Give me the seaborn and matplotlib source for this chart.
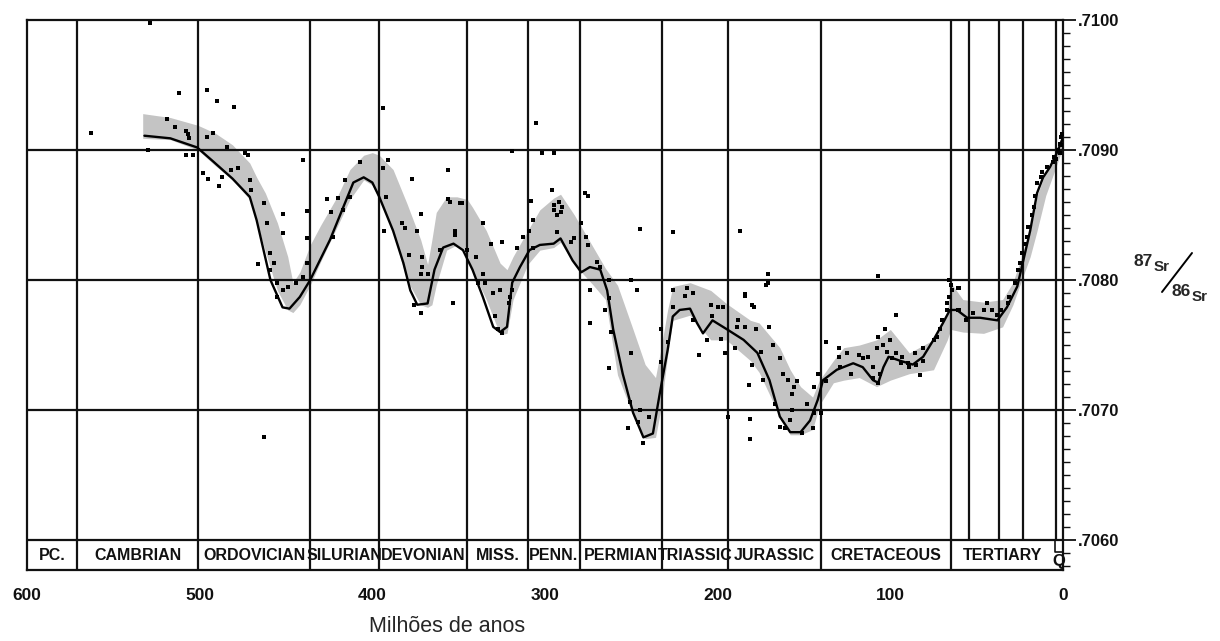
import numpy as np
import pandas as pd
import seaborn as sns
import matplotlib.pyplot as plt
from matplotlib.lines import Line2D

# smoothed curve of 87Sr/86Sr versus age (Ma)
curve_age = [532, 517, 501.5, 492, 481, 471, 467, 463, 459, 455, 452, 448, 442, 436, 424.5, 415, 411, 405, 400,
             396, 388, 382, 378, 374, 368, 364, 359, 353, 347.5, 342, 336, 330, 326, 322, 319, 314.5, 309, 303,
             295, 291, 284, 279, 274, 268, 264, 260.5, 255, 249, 243, 237.5, 233.5, 229, 226, 222, 216, 212,
             208.5, 203, 194.5, 185, 177, 170, 164, 158, 152, 146.5, 142, 139, 131, 121.5, 116, 110, 107, 104,
             101, 94.5, 87, 81, 75, 69.5, 65.5, 61.5, 55.5, 48, 38, 32.5, 26.5, 23, 19, 15, 11.5, 7.5, 3.5, 0.5]
curve_ratio = [.70911, .70909, .70902, .70891, .70878, .70864, .70846, .70823, .70800, .70788, .70779, .70778,
               .70787, .70800, .70831, .70862, .70875, .70879, .70875, .70864, .70838, .70813, .70792, .70781,
               .70782, .70808, .70825, .70828, .70823, .70808, .70787, .70764, .70760, .70764, .70798, .70810,
               .70823, .70827, .70828, .70832, .70815, .70806, .70810, .70808, .70792, .70762, .70728, .70698,
               .70679, .70682, .70713, .70746, .70772, .70777, .70778, .70767, .70759, .70769, .70762, .70754,
               .70744, .70723, .70695, .70683, .70683, .70692, .70708, .70723, .70731, .70736, .70733, .70723,
               .70721, .70733, .70741, .70738, .70735, .70741, .70754, .70767, .70777, .70777, .70771, .70771,
               .70769, .70779, .70795, .70815, .70838, .70867, .70879, .70887, .70898, .70908]

# shaded envelope
band_age = [533, 517, 501, 491, 481, 471, 467, 462, 455, 449, 446, 442, 436, 430, 420, 413, 405, 400, 396, 388,
            380, 372, 368, 365.5, 363, 357, 351, 345, 342, 334, 326, 322, 318.5, 310, 303, 295, 291, 283, 272,
            265, 258, 249, 242, 236, 233, 229, 226, 216, 204, 195, 181, 176, 164, 158, 152, 145, 141, 133, 127,
            118, 108, 100, 89, 75, 67, 65, 58, 46, 35, 29, 25, 19, 15, 10, 4.6, 0.6]
band_hi = [.70928, .70925, .70919, .70913, .70904, .70890, .70879, .70867, .70844, .70818, .70798, .70806, .70827,
           .70842, .70865, .70885, .70896, .70898, .70896, .70885, .70859, .70831, .70812, .70831, .70852, .70864,
           .70864, .70862, .70856, .70838, .70813, .70808, .70818, .70838, .70854, .70863, .70866, .70850, .70825,
           .70809, .70796, .70762, .70735, .70725, .70746, .70777, .70795, .70798, .70792, .70782, .70769, .70767,
           .70748, .70731, .70718, .70710, .70723, .70738, .70748, .70750, .70754, .70762, .70744, .70754, .70775,
           .70798, .70785, .70783, .70785, .70798, .70814, .70837, .70865, .70883, .70896, .70908]
band_lo = [.70909, .70908, .70900, .70888, .70877, .70862, .70845, .70822, .70792, .70777, .70775, .70781, .70796,
           .70814, .70842, .70862, .70877, .70873, .70862, .70837, .70800, .70781, .70779, .70781, .70796, .70823,
           .70827, .70819, .70808, .70785, .70758, .70759, .70785, .70812, .70823, .70825, .70829, .70812, .70796,
           .70785, .70727, .70696, .70678, .70679, .70700, .70742, .70769, .70773, .70754, .70754, .70738, .70729,
           .70695, .70681, .70681, .70685, .70704, .70721, .70723, .70725, .70718, .70723, .70728, .70731, .70754,
           .70762, .70760, .70759, .70764, .70781, .70796, .70818, .70838, .70865, .70885, .70900]

# individual measurements (age, ratio)
samples = [
    (529, .70998), (563, .70913), (512, .70944), (496, .70946), (490, .70938), (480, .70933), (394, .70932),
    (440, .70892), (452, .70851), (452, .70836), (438, .70853), (377, .70878), (356, .70885), (372, .70851),
    (393, .70838), (353, .70782), (336, .70844), (331, .70828), (463, .70679), (319, .70899), (305, .70921),
    (302, .70898), (295, .70898), (296, .70869), (308, .70861), (325, .70829), (356, .70862), (349, .70859),
    (277, .70867), (275, .70865), (245, .70839), (226, .70837), (187, .70838), (171, .70805), (172, .70796),
    (184, .70789), (180, .70781), (137, .70752), (194, .70695), (181, .70693), (181, .70678), (211, .70742),
    (247, .70792), (250, .70800), (243, .70675), (107, .70803), (97, .70773), (170, .70764), (60, .70794),
    (530, .70900),
    (519, .70924), (514, .70918), (508, .70915), (507, .70912), (506, .70909), (496, .70910), (492, .70913),
    (484, .70902), (474, .70898), (472, .70896), (508, .70896), (504, .70896), (498, .70882), (495, .70878),
    (489, .70872), (487, .70879), (482, .70885), (478, .70886), (471, .70877), (470, .70869), (463, .70859),
    (461, .70844), (459, .70821), (457, .70813), (466, .70812), (459, .70808), (455, .70798), (452, .70792),
    (455, .70787), (449, .70795), (444, .70798), (440, .70802), (438, .70813), (438, .70832), (426, .70862),
    (424, .70852), (420, .70863), (423, .70833), (417, .70854), (416, .70877),
    (407, .70891), (394, .70886), (391, .70892), (413, .70864), (392, .70864), (383, .70844), (381, .70840),
    (374, .70838), (379, .70819), (371, .70818), (371, .70810), (372, .70805), (368, .70805), (376, .70781),
    (372, .70775), (361, .70823), (352, .70838), (352, .70835), (348, .70859), (355, .70860), (345, .70823),
    (340, .70818), (336, .70805), (339, .70798), (335, .70798), (330, .70790), (326, .70792), (329, .70772),
    (327, .70762), (325, .70759), (320, .70787), (321, .70782), (319, .70792), (316, .70825), (313, .70833),
    (309, .70838), (307, .70846), (307, .70825), (295, .70854), (293, .70850),
    (295, .70858), (292, .70860), (290, .70856), (291, .70852), (293, .70837), (285, .70829), (283, .70832),
    (279, .70844), (276, .70833), (275, .70827), (270, .70814), (268, .70810), (263, .70800), (263, .70786),
    (274, .70792), (265, .70777), (274, .70767), (262, .70760), (250, .70744), (263, .70732), (251, .70706),
    (245, .70700), (246, .70691), (252, .70686), (240, .70695), (233, .70762), (233, .70737), (229, .70752),
    (226, .70792), (226, .70779), (218, .70794), (219, .70788), (214, .70790), (214, .70769), (206, .70754),
    (204, .70781), (203, .70772), (200, .70779), (197, .70779), (196, .70744), (198, .70755), (189, .70764),
    (188, .70769), (184, .70764), (184, .70788), (178, .70762), (180, .70735), (182, .70719), (179, .70779),
    (174, .70723), (171, .70798), (190, .70748),
    (175, .70745), (168, .70750), (164, .70740), (162, .70728), (159, .70723), (156, .70718), (154, .70722),
    (157, .70712), (167, .70705), (157, .70700), (164, .70687), (158, .70692), (161, .70686), (145, .70686),
    (148, .70705), (151, .70682), (144, .70718), (142, .70728), (144, .70698), (140, .70698), (137, .70722),
    (130, .70748), (130, .70741), (129, .70733), (125, .70744), (123, .70728), (118, .70742), (116, .70740),
    (113, .70741), (110, .70733), (110, .70725), (107, .70721), (106, .70728), (107, .70756), (103, .70762),
    (108, .70748), (104, .70750), (100, .70754), (102, .70745), (99, .70740), (97, .70744), (94, .70736),
    (93, .70741), (90, .70736), (89, .70733), (85, .70735), (86, .70744), (81, .70738), (81, .70748),
    (83, .70727), (75, .70754), (73, .70756), (71, .70762), (70, .70769), (67, .70777), (66, .70787),
    (65, .70796), (64, .70792), (61, .70777),
    (66, .70800), (67, .70782), (61, .70794), (60, .70777), (56, .70769), (52, .70775), (46, .70777),
    (44, .70782), (41, .70777), (38, .70773), (36, .70777), (32, .70782), (31, .70787), (28, .70798),
    (26, .70808), (25, .70813), (24, .70821), (22, .70828), (21, .70833), (20, .70841), (18, .70850),
    (17, .70856), (16, .70865), (15, .70875), (13, .70879), (12, .70883), (9, .70887), (6, .70891),
    (5, .70895), (3, .70900), (2, .70905), (1, .70910), (1, .70904), (0.5, .70912), (2, .70898), (4, .70893),
]

# geologic periods
period_bounds = [571, 501, 436, 396, 345, 310, 280, 232, 194, 140, 65, 4.5]
period_names = ["PC.", "CAMBRIAN", "ORDOVICIAN", "SILURIAN", "DEVONIAN", "MISS.", "PENN.", "PERMIAN",
                "TRIASSIC", "JURASSIC", "CRETACEOUS", "TERTIARY", "Q"]
epoch_bounds = [54.4, 37.1, 23.2]

x_ticks = [600, 500, 400, 300, 200, 100, 0]
y_ticks = [0.7060, 0.7070, 0.7080, 0.7090, 0.7100]

sns.set_style("white")
plt.rcParams['font.family'] = ['Liberation Sans', 'DejaVu Sans']

W, H = 1220, 641
fig = plt.figure(figsize=(W / 100, H / 100), dpi=100)
ax = fig.add_axes([27 / W, 1 - 570 / H, (1063 - 27) / W, (570 - 20) / H])
ymin, ymax = 0.70577, 0.7100
band_top = 0.7060

ax.fill_between(band_age, band_lo, band_hi, color='#c4c4c4', lw=0, zorder=1)

curve = pd.DataFrame({"age": curve_age, "ratio": curve_ratio})
sns.lineplot(data=curve, x="age", y="ratio", sort=False, estimator=None,
             color='black', lw=1.7, ax=ax, zorder=3)

pts = pd.DataFrame(samples, columns=["age", "ratio"])
sns.scatterplot(data=pts, x="age", y="ratio", marker='s', s=6, color='black',
                linewidth=0, ax=ax, zorder=4)

lc = '#111111'
for v in [0.7070, 0.7080, 0.7090, band_top]:
    ax.axhline(v, color=lc, lw=1.6, zorder=2)
for a in period_bounds[:-1]:
    ax.axvline(a, color=lc, lw=1.6, zorder=2)
ax.vlines(epoch_bounds + [4.1], band_top, ymax, color=lc, lw=1.6, zorder=2)
# small Q bracket inside the band
ax.plot([4.5, 4.5, 0], [band_top, 0.70591, 0.70591], color=lc, lw=1.2, zorder=2)

edges = [600] + period_bounds + [0]
for i, name in enumerate(period_names):
    mid = (edges[i] + edges[i + 1]) / 2
    yy = (band_top + ymin) / 2
    size = 11.5
    if name == "Q":
        yy = 0.705835
        size = 12
    ax.text(mid, yy, name, ha='center', va='center', fontsize=size,
            fontweight='bold', color='#111111', zorder=5)

ax.set_xlim(600, 0)
ax.set_ylim(ymin, ymax)
ax.set_xticks(x_ticks)
ax.set_xticklabels([str(t) for t in x_ticks], fontsize=12.5, fontweight='bold')
ax.yaxis.tick_right()
ax.set_yticks(y_ticks)
ax.set_yticklabels(["." + f"{t:.4f}".split(".")[1] for t in y_ticks], fontsize=12, fontweight='bold')
ax.set_yticks(np.arange(0.7058, 0.71005, 0.0001), minor=True)
ax.tick_params(axis='x', direction='out', length=10, width=1.4, pad=3, colors='#111111')
ax.tick_params(axis='y', which='major', direction='out', length=9, width=1.3, pad=2, colors='#111111')
ax.tick_params(axis='y', which='minor', direction='out', length=5, width=1.0, colors='#111111')
ax.set_xlabel("")
ax.set_ylabel("")
for sp in ax.spines.values():
    sp.set_visible(True)
    sp.set_color(lc)
    sp.set_linewidth(1.6)

# right-hand axis label 87Sr/86Sr
def fx(px):
    return px / W

def fy(py):
    return 1 - py / H

fig.text(fx(1134), fy(261), "87", fontsize=12.5, fontweight='bold', ha='left', va='center')
fig.text(fx(1154), fy(267), "Sr", fontsize=11, fontweight='bold', ha='left', va='center')
fig.add_artist(Line2D([fx(1162), fx(1192)], [fy(292), fy(253)], color='black', lw=1.4))
fig.text(fx(1172), fy(291), "86", fontsize=12.5, fontweight='bold', ha='left', va='center')
fig.text(fx(1192), fy(297), "Sr", fontsize=11, fontweight='bold', ha='left', va='center')

fig.text(fx(447), fy(626), "Milhões de anos", fontsize=15.5, ha='center', va='center')

fig.savefig("out.png", dpi=100, facecolor='white')
